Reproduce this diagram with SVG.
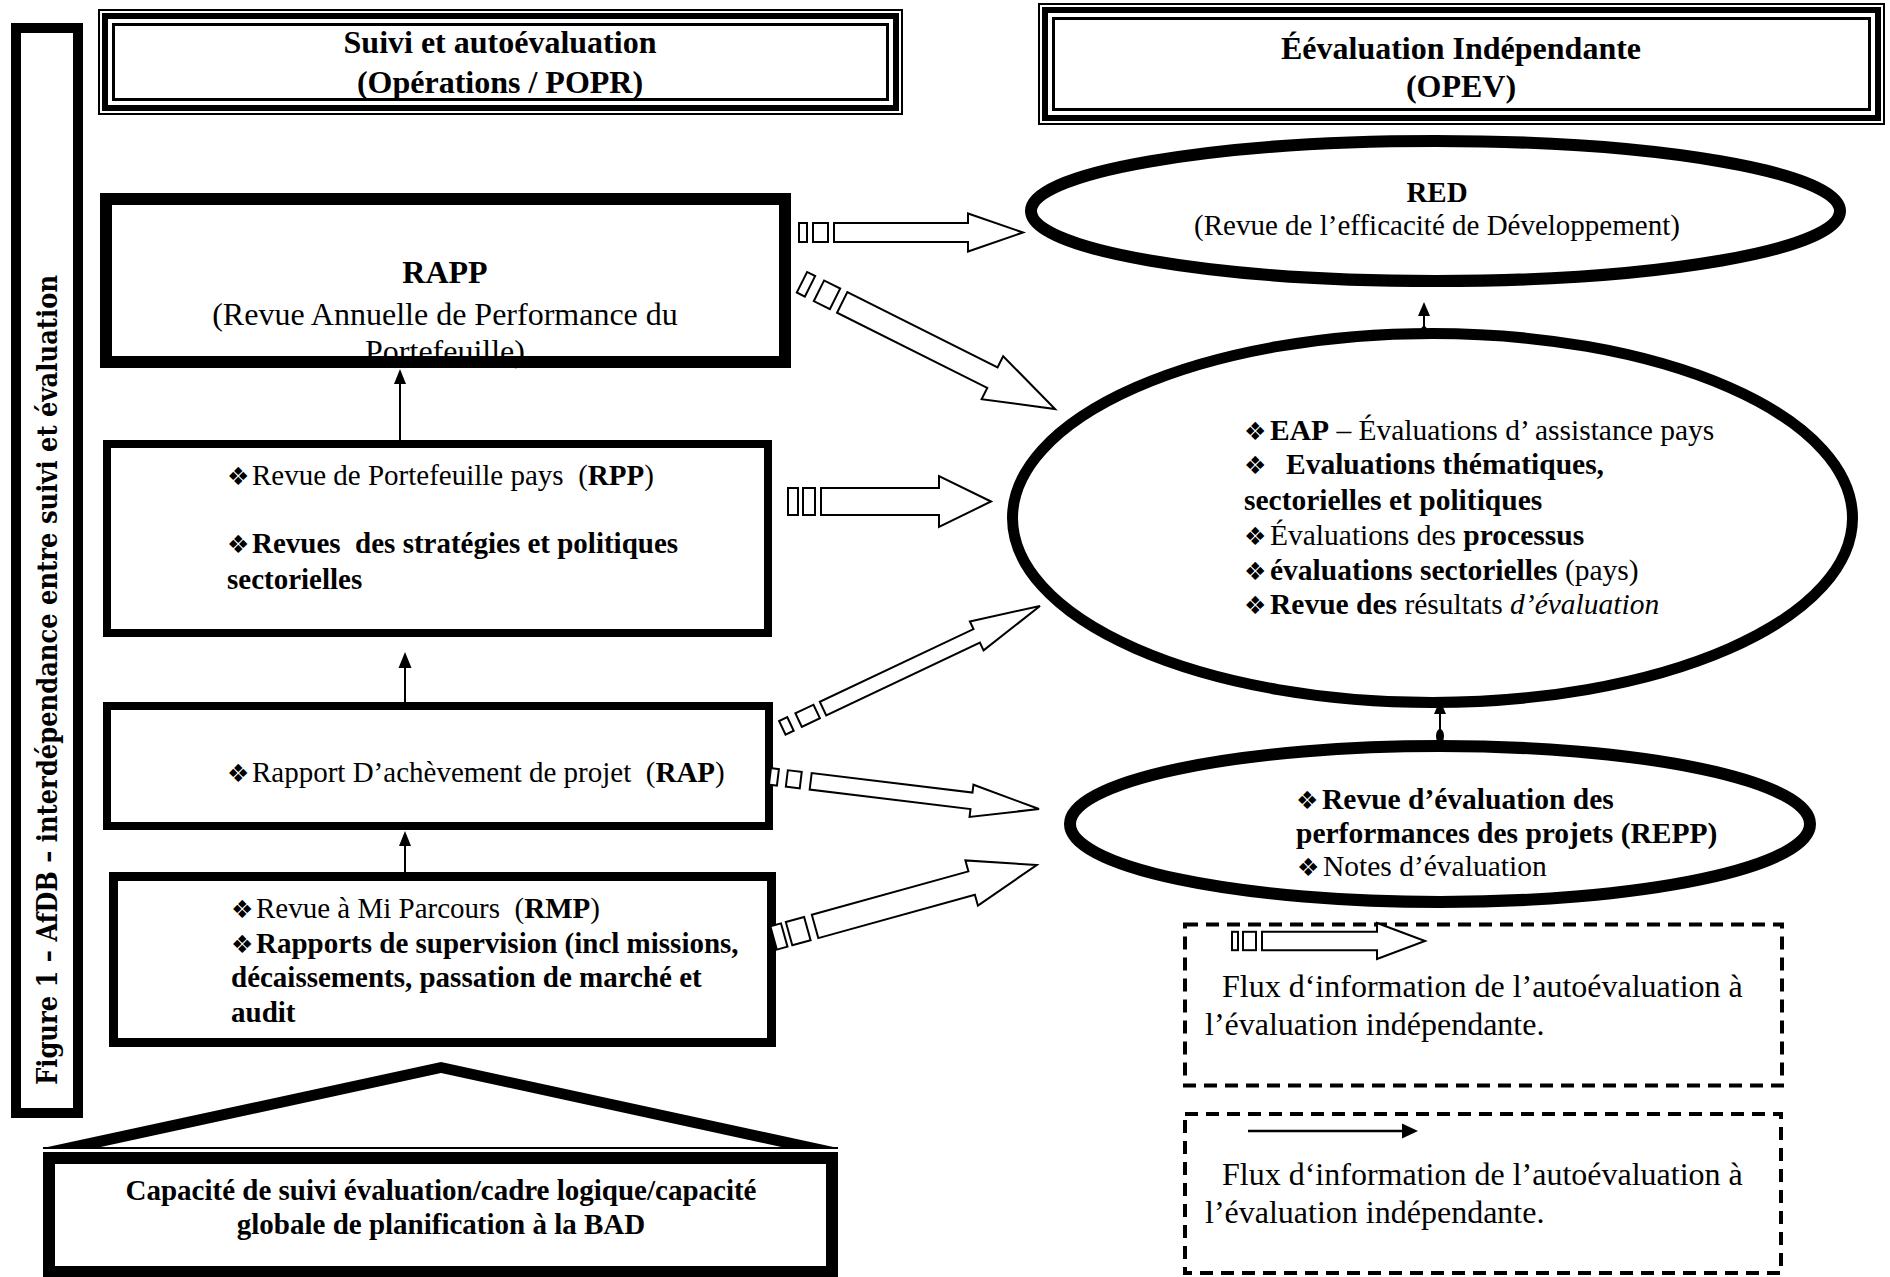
<svg xmlns="http://www.w3.org/2000/svg" width="1890" height="1277" viewBox="0 0 1890 1277">
<style>
.t{font-family:"Liberation Serif","Times New Roman",serif;font-size:29px;fill:#000;white-space:pre}
.e{font-size:29.5px}
.b{font-weight:bold}
.i{font-style:italic}
.h{font-size:32px;font-weight:bold;text-anchor:middle}
.m{text-anchor:middle}
.lg{font-size:32px}
.bul{font-family:"DejaVu Sans",sans-serif;font-size:25px;fill:#000}
.fat{fill:#fff;stroke:#000;stroke-width:2;stroke-linejoin:miter}
.ln{stroke:#000;stroke-width:2;fill:none}
.hd{fill:#000}
.dash{fill:none;stroke:#000;stroke-width:4;stroke-dasharray:13 8}
.box{fill:none;stroke:#000}
</style>
<rect width="1890" height="1277" fill="#fff"/>

<g id="figure-title">
<rect x="16" y="28" width="62" height="1085" fill="#fff" stroke="#000" stroke-width="10"/>
<text transform="translate(57,680) rotate(-90)" text-anchor="middle" textLength="810" lengthAdjust="spacingAndGlyphs" style="font-family:'DejaVu Serif',serif;font-weight:bold;font-size:27px">Figure 1 – AfDB – interdépendance entre suivi et évaluation</text>
</g>

<g id="header-suivi">
<rect x="99" y="10" width="803" height="104" class="box" stroke-width="2"/>
<rect x="105" y="16" width="791" height="92" class="box" stroke-width="6"/>
<rect x="113.5" y="24.5" width="774" height="75" class="box" stroke-width="3"/>
<text class="t h" x="500" y="53">Suivi et autoévaluation</text>
<text class="t h" x="500" y="93">(Opérations / POPR)</text>
</g>

<g id="header-evaluation">
<rect x="1039" y="4" width="845" height="120" class="box" stroke-width="2"/>
<rect x="1045" y="10" width="833" height="108" class="box" stroke-width="6"/>
<rect x="1053.5" y="18.5" width="816" height="91" class="box" stroke-width="3"/>
<text class="t h" x="1461" y="59">Éévaluation Indépendante</text>
<text class="t h" x="1461" y="97">(OPEV)</text>
</g>

<g id="rapp">
<rect x="106" y="199" width="679" height="163" fill="#fff"/>
<text class="t b m" x="445" y="283" style="font-size:32px">RAPP</text>
<text class="t m" x="445" y="325" style="font-size:32px">(Revue Annuelle de Performance du</text>
<text class="t m" x="445" y="362" style="font-size:32px">Portefeuille)</text>
<rect x="106" y="199" width="679" height="163" class="box" stroke-width="12"/>
</g>

<g id="rpp">
<rect x="107" y="444" width="661" height="189" fill="#fff" stroke="#000" stroke-width="8"/>
<text class="bul" x="227" y="485">❖</text>
<text class="t" x="252" y="485">Revue de Portefeuille pays  (<tspan class="b">RPP</tspan>)</text>
<text class="bul" x="227" y="553">❖</text>
<text class="t b" x="252" y="553">Revues  des stratégies et politiques</text>
<text class="t b" x="227" y="589">sectorielles</text>
</g>

<g id="rap">
<rect x="107" y="706" width="662" height="120" fill="#fff" stroke="#000" stroke-width="8"/>
<text class="bul" x="227" y="782">❖</text>
<text class="t" x="252" y="782">Rapport D’achèvement de projet  (<tspan class="b">RAP</tspan>)</text>
</g>

<g id="rmp">
<rect x="113.5" y="876.5" width="658" height="166" fill="#fff" stroke="#000" stroke-width="9"/>
<text class="bul" x="231" y="918">❖</text>
<text class="t" x="256" y="918">Revue à Mi Parcours  (<tspan class="b">RMP</tspan>)</text>
<text class="bul" x="231" y="953">❖</text>
<text class="t b" x="256" y="953">Rapports de supervision (incl missions,</text>
<text class="t b" x="231" y="987">décaissements, passation de marché et</text>
<text class="t b" x="231" y="1022">audit</text>
</g>

<g id="capacite">
<path d="M43,1148 L441,1062 L838,1148 L786,1148 L441,1073 L96,1148 Z" fill="#000"/>
<line x1="43" y1="1148" x2="838" y2="1148" stroke="#000" stroke-width="2"/>
<rect x="49" y="1158" width="783" height="114" fill="#fff" stroke="#000" stroke-width="12"/>
<text class="t b m" x="441" y="1200">Capacité de suivi évaluation/cadre logique/capacité</text>
<text class="t b m" x="441" y="1234">globale de planification à la BAD</text>
</g>

<g id="red">
<ellipse cx="1435.5" cy="211" rx="404.5" ry="70" fill="#fff" stroke="#000" stroke-width="12"/>
<text class="t b m" x="1437" y="202">RED</text>
<text class="t m" x="1437" y="235">(Revue de l’efficacité de Développement)</text>
</g>

<g id="eap">
<ellipse cx="1432.5" cy="518" rx="420" ry="184.5" fill="#fff" stroke="#000" stroke-width="11"/>
<text class="bul" x="1244" y="440">❖</text>
<text class="t e" x="1270" y="440"><tspan class="b">EAP</tspan> – Évaluations d’ assistance pays</text>
<text class="bul" x="1244" y="474">❖</text>
<text class="t e b" x="1286" y="474">Evaluations thématiques,</text>
<text class="t e b" x="1244" y="510">sectorielles et politiques</text>
<text class="bul" x="1244" y="545">❖</text>
<text class="t e" x="1270" y="545">Évaluations des <tspan class="b">processus</tspan></text>
<text class="bul" x="1244" y="580">❖</text>
<text class="t e" x="1270" y="580"><tspan class="b">évaluations sectorielles</tspan> (pays)</text>
<text class="bul" x="1244" y="614">❖</text>
<text class="t e" x="1270" y="614"><tspan class="b">Revue des</tspan> résultats <tspan class="i">d’évaluation</tspan></text>
</g>

<g id="repp">
<ellipse cx="1440" cy="824" rx="370" ry="78" fill="#fff" stroke="#000" stroke-width="12"/>
<text class="bul" x="1296" y="809">❖</text>
<text class="t e b" x="1322" y="809">Revue d’évaluation des</text>
<text class="t e b" x="1296" y="843">performances des projets (REPP)</text>
<text class="bul" x="1297" y="876">❖</text>
<text class="t e" x="1323" y="876">Notes d’évaluation</text>
</g>

<g id="legend-striped">
<rect x="1185" y="924.5" width="597" height="161" class="dash"/>
<g transform="translate(1425,941)" class="fat">
<polygon points="0,0 -48,-18 -48,-9.2 -163,-9.2 -163,9.2 -48,9.2 -48,18"/>
<rect x="-182" y="-9.2" width="13" height="18.4"/>
<rect x="-193" y="-9.2" width="6" height="18.4"/>
</g>
<text class="t lg" x="1222" y="997">Flux d‘information de l’autoévaluation à</text>
<text class="t lg" x="1205" y="1035">l’évaluation indépendante.</text>
</g>

<g id="legend-line">
<rect x="1185" y="1114" width="596" height="159" class="dash"/>
<line x1="1248" y1="1131" x2="1404" y2="1131" stroke="#000" stroke-width="2.5"/>
<polygon points="1418,1131 1402,1123.5 1402,1138.5" class="hd"/>
<text class="t lg" x="1222" y="1185">Flux d‘information de l’autoévaluation à</text>
<text class="t lg" x="1205" y="1223">l’évaluation indépendante.</text>
</g>

<g id="connectors">
<g class="fat" transform="translate(1023,232.5)">
<polygon points="0,0 -55,-19 -55,-9.5 -189,-9.5 -189,9.5 -55,9.5 -55,19"/>
<rect x="-210" y="-9.5" width="15" height="19"/>
<rect x="-224" y="-9.5" width="8" height="19"/>
</g>
<g class="fat" transform="translate(1055,409) rotate(26.6)">
<polygon points="0,0 -70,-24 -70,-11.5 -238,-11.5 -238,11.5 -70,11.5 -70,24"/>
<rect x="-264" y="-11.5" width="18" height="23"/>
<rect x="-283" y="-11.5" width="9" height="23"/>
</g>
<g class="fat" transform="translate(991,501.5)">
<polygon points="0,0 -52,-25.5 -52,-13.5 -170,-13.5 -170,13.5 -52,13.5 -52,25.5"/>
<rect x="-188" y="-13.5" width="12" height="27"/>
<rect x="-203" y="-13.5" width="10" height="27"/>
</g>
<g class="fat" transform="translate(1040,606) rotate(-25.3)">
<polygon points="0,0 -70,-16 -70,-7.5 -240,-7.5 -240,7.5 -70,7.5 -70,16"/>
<rect x="-267" y="-7.5" width="20" height="15"/>
<rect x="-285" y="-7.5" width="9" height="15"/>
</g>
<g class="fat" transform="translate(1039,809) rotate(6.9)">
<polygon points="0,0 -68,-16.2 -68,-8.3 -230,-8.3 -230,8.3 -68,8.3 -68,16.2"/>
<rect x="-254" y="-8.3" width="14" height="16.6"/>
<rect x="-271" y="-8.3" width="8" height="16.6"/>
</g>
<g class="fat" transform="translate(1036.7,865) rotate(-15.5)">
<polygon points="0,0 -67.5,-23.5 -67.5,-12.1 -230,-12.1 -230,12.1 -67.5,12.1 -67.5,23.5"/>
<rect x="-257" y="-12.1" width="19" height="24.2"/>
<rect x="-273" y="-12.1" width="11" height="24.2"/>
</g>
<line x1="400" y1="440" x2="400" y2="382" class="ln"/>
<polygon points="400,369 394,384 406,384" class="hd"/>
<line x1="405" y1="702" x2="405" y2="665" class="ln"/>
<polygon points="405,652 398.5,668 411.5,668" class="hd"/>
<line x1="405" y1="872" x2="405" y2="844" class="ln"/>
<polygon points="405,831 399,846 411,846" class="hd"/>
<line x1="1424" y1="334" x2="1424" y2="314" class="ln"/>
<polygon points="1424,302 1418,316 1430,316" class="hd"/>
<ellipse cx="1424" cy="332" rx="3.5" ry="6" class="hd"/>
<line x1="1440" y1="738" x2="1440" y2="712" class="ln"/>
<polygon points="1440,700 1434,714 1446,714" class="hd"/>
<ellipse cx="1440" cy="736" rx="4" ry="7" class="hd"/>
</g>
</svg>
